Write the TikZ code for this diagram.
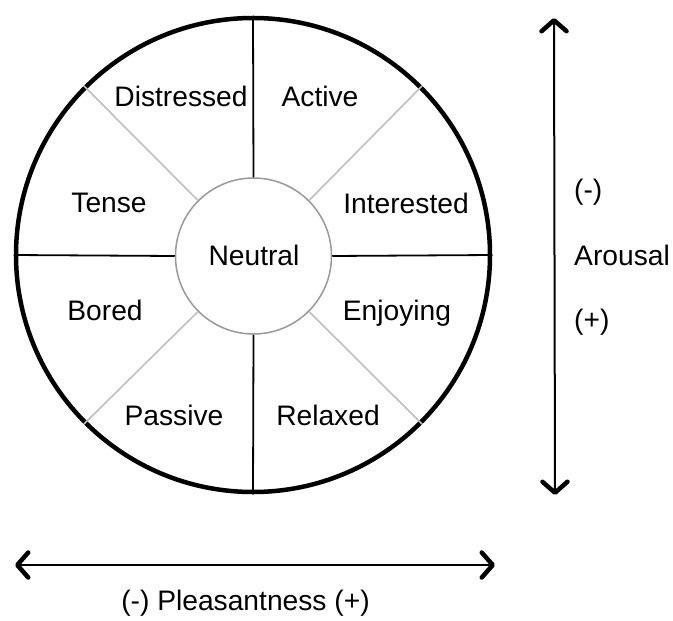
\documentclass[tikz,border=0pt]{standalone}
\usepackage{fontspec}
\setmainfont{Liberation Sans}
\usetikzlibrary{arrows.meta}
\begin{document}
\begin{tikzpicture}[x=1pt,y=-1pt,
  lbl/.style={anchor=base, inner sep=0pt, font=\fontsize{28.2}{33}\selectfont},
  sidelbl/.style={anchor=base west, inner sep=0pt, font=\fontsize{28.2}{33}\selectfont},
  divider/.style={line width=1.8pt, black},
  diag/.style={line width=1.6pt, black!25},
  chev/.tip={Straight Barb[length=11pt,width=25pt,line width=4.5pt,round]},
  axis/.style={line width=2pt, chev-chev}
]
\useasboundingbox (0,0) rectangle (673,621);
\node[circle, draw, line width=4.5pt, minimum size=474pt, inner sep=0pt] (outer) at (253,255) {};
\node[circle, draw=black!40, line width=1.5pt, minimum size=156pt, inner sep=0pt] (inner) at (253.5,256) {};
\node[lbl] (neutral) at (254,265) {Neutral};
\draw[divider] (inner.north) -- (outer.north);
\draw[divider] (inner.south) -- (outer.south);
\draw[divider] (inner.west) -- (outer.west);
\draw[divider] (inner.east) -- (outer.east);
\draw[diag] (inner.45) -- (outer.45);
\draw[diag] (inner.135) -- (outer.135);
\draw[diag] (inner.225) -- (outer.225);
\draw[diag] (inner.315) -- (outer.315);
\node[lbl] (distressed) at (181,106) {Distressed};
\node[lbl] (active) at (320,106) {Active};
\node[lbl] (tense) at (109,212) {Tense};
\node[lbl] (interested) at (406,213) {Interested};
\node[lbl] (bored) at (105,320) {Bored};
\node[lbl] (enjoying) at (397,320) {Enjoying};
\node[lbl] (passive) at (174,425) {Passive};
\node[lbl] (relaxed) at (328,425) {Relaxed};
\coordinate (vtop) at (554,18);
\coordinate (vbot) at (555,495);
\draw[axis] (vtop) -- (vbot);
\node[sidelbl] (minus) at (574,199) {(-)};
\node[sidelbl] (arousal) at (574,265) {Arousal};
\node[sidelbl] (plus) at (574,329) {(+)};
\coordinate (hleft) at (15,565);
\coordinate (hright) at (495,565);
\draw[axis] (hleft) -- (hright);
\node[lbl] (pleas) at (245.5,610) {(-) Pleasantness (+)};
\end{tikzpicture}
\end{document}
